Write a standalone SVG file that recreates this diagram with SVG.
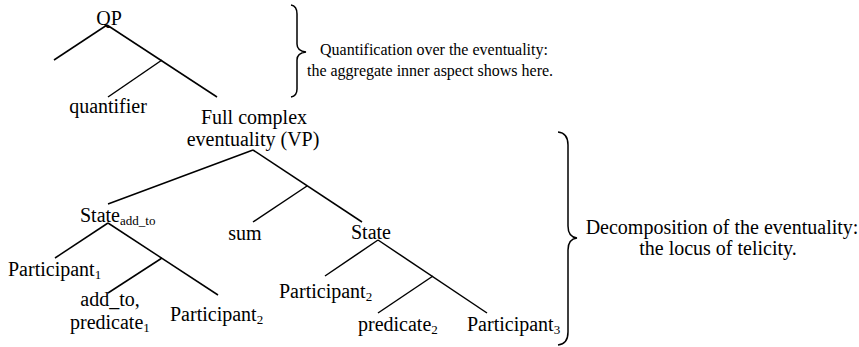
<svg xmlns="http://www.w3.org/2000/svg" width="859" height="347" viewBox="0 0 859 347">
<style>
  text { font-family: "Liberation Serif", "Times New Roman", serif; font-size: 20px; fill: #000; }
  .sub { font-size: 13px; }
  .note { font-size: 16px; }
  .note2 { font-size: 20px; }
  line { stroke: #000; stroke-width: 1.5; }
  .brace { fill: none; stroke: #000; stroke-width: 1.5; }
</style>
<rect width="859" height="347" fill="#fff"/>
<g id="connectors">
  <line x1="107" y1="25" x2="54" y2="60"/>
  <line x1="107" y1="25" x2="217" y2="97"/>
  <line x1="162" y1="60" x2="108" y2="97"/>
  <line x1="253" y1="150" x2="108" y2="204"/>
  <line x1="253" y1="150" x2="362" y2="222"/>
  <line x1="307" y1="186" x2="253" y2="222"/>
  <line x1="108" y1="223" x2="55" y2="258"/>
  <line x1="108" y1="223" x2="218" y2="295"/>
  <line x1="162" y1="258" x2="108" y2="293"/>
  <line x1="378" y1="240" x2="325" y2="276"/>
  <line x1="378" y1="240" x2="487" y2="313"/>
  <line x1="433" y1="276" x2="378" y2="313"/>
</g>
<g id="QP"><text x="109" y="25" text-anchor="middle">QP</text></g>
<g id="quantifier"><text x="108" y="113" text-anchor="middle">quantifier</text></g>
<g id="VP">
  <text x="254" y="124" text-anchor="middle">Full complex</text>
  <text x="253" y="146" text-anchor="middle">eventuality (VP)</text>
</g>
<g id="State_add_to"><text x="80" y="222">State<tspan class="sub" dy="3">add_to</tspan></text></g>
<g id="sum"><text x="245" y="240" text-anchor="middle">sum</text></g>
<g id="State"><text x="371" y="239" text-anchor="middle">State</text></g>
<g id="Participant1"><text x="8" y="276">Participant<tspan class="sub" dy="3">1</tspan></text></g>
<g id="add_to_predicate1">
  <text x="110" y="306" text-anchor="middle">add_to,</text>
  <text x="70" y="329">predicate<tspan class="sub" dy="3">1</tspan></text>
</g>
<g id="Participant2_left"><text x="170" y="321">Participant<tspan class="sub" dy="3">2</tspan></text></g>
<g id="Participant2_right"><text x="279" y="298">Participant<tspan class="sub" dy="3">2</tspan></text></g>
<g id="predicate2"><text x="358" y="331">predicate<tspan class="sub" dy="3">2</tspan></text></g>
<g id="Participant3"><text x="467" y="331">Participant<tspan class="sub" dy="3">3</tspan></text></g>
<g id="brace1">
  <path class="brace" d="M291,5 Q297,6 297,14 L297,44 Q297,51 306,52 Q297,53 297,60 L297,89 Q297,96 291,97"/>
  <text class="note" x="434" y="55" text-anchor="middle">Quantification over the eventuality:</text>
  <text class="note" x="430" y="76" text-anchor="middle">the aggregate inner aspect shows here.</text>
</g>
<g id="brace2">
  <path class="brace" d="M558,132 Q568,133 568,145 L568,226 Q568,237 577,238 Q568,239 568,250 L568,332 Q568,344 558,345"/>
  <text class="note2" x="722" y="234" text-anchor="middle">Decomposition of the eventuality:</text>
  <text class="note2" x="718" y="255" text-anchor="middle">the locus of telicity.</text>
</g>
</svg>
